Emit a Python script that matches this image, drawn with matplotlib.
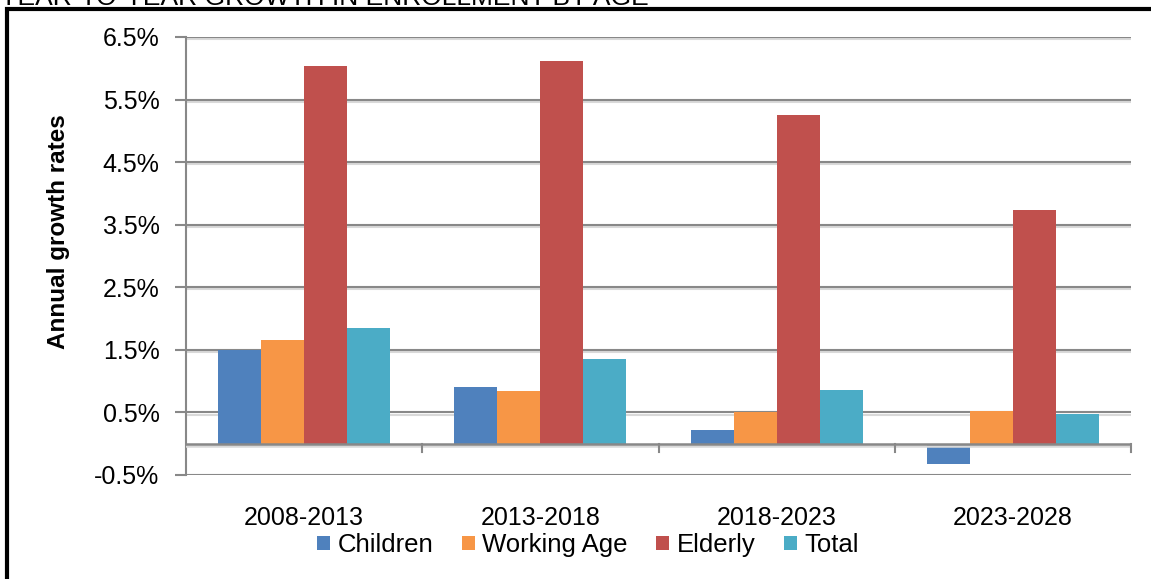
import numpy as np
import matplotlib
matplotlib.use('Agg')
from matplotlib import pyplot as plt
from matplotlib import patheffects as pe
from matplotlib.patches import Rectangle

plt.rcParams['font.family'] = ['Liberation Sans', 'DejaVu Sans']

periods = ['2008-2013', '2013-2018', '2018-2023', '2023-2028']
children = [1.49, 0.91, 0.22, -0.33]
working_age = [1.66, 0.85, 0.51, 0.53]
elderly = [6.04, 6.12, 5.26, 3.74]
total = [1.85, 1.36, 0.86, 0.47]

series = [('Children', children, '#4F81BD'),
          ('Working Age', working_age, '#F79646'),
          ('Elderly', elderly, '#C0504D'),
          ('Total', total, '#4BACC6')]

W, H = 1151, 579
fig = plt.figure(figsize=(W / 100, H / 100), dpi=100)
ax = fig.add_axes([186 / W, (H - 475) / H, (1131 - 186) / W, (475 - 37) / H])

grid_col = '#888888'
shadow = [pe.SimpleLineShadow(offset=(0, -1.5), shadow_color='#d9d9d9', alpha=1), pe.Normal()]

yticks = np.arange(-0.5, 6.6, 1.0)
for t in yticks:
    ax.axhline(t, color=grid_col, lw=1.5, zorder=1, path_effects=shadow)
ax.axhline(0, color=grid_col, lw=1.8, zorder=4, path_effects=shadow)

x = np.arange(len(periods))
bw = 0.182
for i, (name, vals, col) in enumerate(series):
    ax.bar(x + (i - 1.5) * bw, vals, width=bw, color=col, label=name, zorder=3)

# category separator ticks hanging below the zero line
for b in np.arange(0.5, len(periods), 1.0):
    ax.plot([b, b], [0, -0.13], color=grid_col, lw=1.5, zorder=4, clip_on=False)

ax.set_xlim(-0.5, len(periods) - 0.5)
ax.set_ylim(-0.5, 6.5)
ax.set_yticks(yticks)
ax.set_yticklabels([f'{t:.1f}%' for t in yticks], fontsize=18)
ax.set_xticks(x)
ax.set_xticklabels(periods, fontsize=18)
ax.tick_params(axis='y', length=8, width=1.5, color=grid_col, pad=11)
ax.tick_params(axis='x', length=0, pad=22)
for s in ['top', 'right', 'bottom']:
    ax.spines[s].set_visible(False)
ax.spines['left'].set_color(grid_col)
ax.spines['left'].set_linewidth(1.5)

fig.text(58 / W, 1 - 232 / H, 'Annual growth rates', rotation=90, fontsize=17.5,
         fontweight='bold', ha='center', va='center')

ax.legend(loc='center', bbox_to_anchor=(588 / W, 1 - 545 / H), bbox_transform=fig.transFigure,
          ncol=4, frameon=False, fontsize=18.5, handlelength=0.5, handleheight=0.5,
          handletextpad=0.3, columnspacing=1.1, borderpad=0)

fig.text(0, 1 - 5 / H, 'YEAR-TO-YEAR GROWTH IN ENROLLMENT BY AGE', fontsize=19,
         ha='left', va='baseline')

fig.patches.append(Rectangle((7 / W, -0.1), 1.2, 1 - 8.5 / H + 0.1, transform=fig.transFigure,
                             fill=False, edgecolor='black', lw=3, zorder=10))

fig.savefig('out.png', dpi=100)
